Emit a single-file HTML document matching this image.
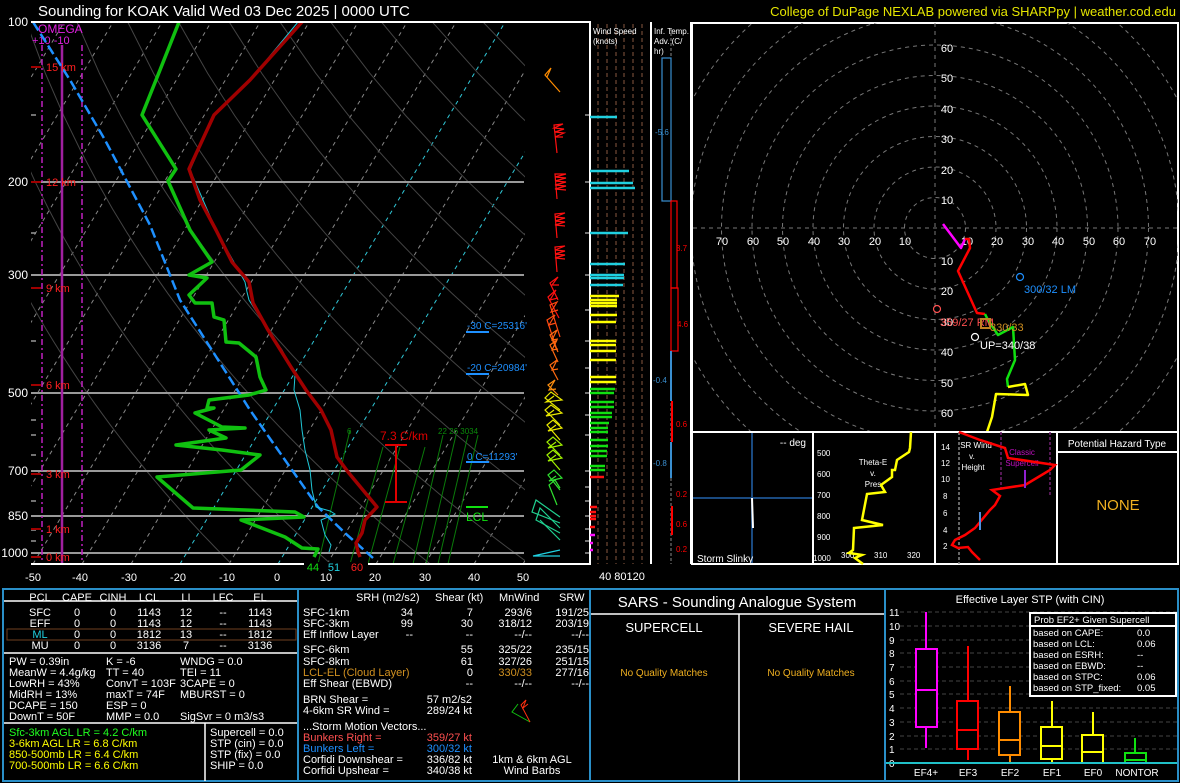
<!DOCTYPE html>
<html><head><meta charset="utf-8"><style>
html,body{margin:0;padding:0;background:#000;width:1180px;height:783px;overflow:hidden}
svg{display:block;font-family:"Liberation Sans",sans-serif}
</style></head><body>
<svg id="s" width="1180" height="783" viewBox="0 0 1180 783" xmlns="http://www.w3.org/2000/svg">
<rect width="1180" height="783" fill="#000"/>
<text x="38" y="16" fill="#fff" font-size="15">Sounding for KOAK Valid  Wed 03 Dec 2025 | 0000 UTC</text>
<text x="1176" y="16" fill="#e6e600" font-size="13" text-anchor="end">College of DuPage NEXLAB powered via SHARPpy | weather.cod.edu</text>

<defs><clipPath id="sk"><rect x="31" y="23" width="494" height="541"/></clipPath>
<clipPath id="hd"><rect x="693" y="23" width="485" height="409"/></clipPath></defs>
<g id="grid" clip-path="url(#sk)"></g>
<g stroke="#999" stroke-width="2">
<line x1="31" y1="182" x2="524" y2="182"/><line x1="31" y1="275" x2="524" y2="275"/>
<line x1="31" y1="393" x2="524" y2="393"/><line x1="31" y1="471" x2="524" y2="471"/>
<line x1="31" y1="516" x2="524" y2="516"/><line x1="31" y1="553" x2="524" y2="553"/>
</g>
<g stroke="#999" stroke-width="1.5">
<line x1="31" y1="115" x2="36" y2="115"/><line x1="31" y1="233" x2="36" y2="233"/><line x1="31" y1="341" x2="36" y2="341"/><line x1="31" y1="420" x2="36" y2="420"/><line x1="31" y1="435" x2="36" y2="435"/><line x1="31" y1="455" x2="36" y2="455"/><line x1="31" y1="501" x2="36" y2="501"/><line x1="31" y1="530" x2="36" y2="530"/><line x1="31" y1="541" x2="36" y2="541"/>
<line x1="585" y1="115" x2="590" y2="115"/><line x1="585" y1="182" x2="590" y2="182"/><line x1="585" y1="233" x2="590" y2="233"/><line x1="585" y1="275" x2="590" y2="275"/><line x1="585" y1="310" x2="590" y2="310"/><line x1="585" y1="341" x2="590" y2="341"/><line x1="585" y1="368" x2="590" y2="368"/><line x1="585" y1="393" x2="590" y2="393"/><line x1="585" y1="415" x2="590" y2="415"/><line x1="585" y1="435" x2="590" y2="435"/><line x1="585" y1="471" x2="590" y2="471"/><line x1="585" y1="487" x2="590" y2="487"/><line x1="585" y1="501" x2="590" y2="501"/><line x1="585" y1="516" x2="590" y2="516"/><line x1="585" y1="529" x2="590" y2="529"/><line x1="585" y1="541" x2="590" y2="541"/><line x1="585" y1="553" x2="590" y2="553"/>
</g>
<g stroke="#0a7a0a" stroke-width="1">
<line x1="350" y1="430" x2="318" y2="564"/><line x1="383" y1="447" x2="350" y2="564"/><line x1="400" y1="447" x2="368" y2="564"/><line x1="425" y1="447" x2="393" y2="564"/><line x1="443" y1="435" x2="413" y2="564"/><line x1="456" y1="435" x2="426" y2="564"/><line x1="468" y1="435" x2="438" y2="564"/><line x1="478" y1="435" x2="448" y2="564"/>
</g>
<text x="347" y="434" fill="#0a8a0a" font-size="8">6</text>
<text x="438" y="434" fill="#0a8a0a" font-size="8">22 26 3034</text>
<line x1="62" y1="45" x2="62" y2="564" stroke="#a020a0" stroke-width="2.5"/>
<line x1="42" y1="45" x2="42" y2="564" stroke="#c020c0" stroke-width="1.5" stroke-dasharray="6,3,2,3"/>
<line x1="82" y1="45" x2="82" y2="564" stroke="#c020c0" stroke-width="1.5" stroke-dasharray="6,3,2,3"/>
<text x="38" y="33" fill="#e020e0" font-size="12">OMEGA</text>
<text x="32" y="44" fill="#e020e0" font-size="11">+10    -10</text>
<polyline fill="none" stroke="#1e90ff" stroke-width="2.5" stroke-dasharray="10,4" points="33,22 70,80 105,140 150,225 180,300 215,355 250,410 285,460 318,507 345,533 373,558"/>
<polyline fill="none" stroke="#20c8d8" stroke-width="1" points="298,22 250,80 214,115 190,170 216,230 245,282 247,292 249,300 268,330 282,350 295,375 294,390 300,410 302,430 305,450 310,470 312,490 316,507 330,511 335,514 321,520 325,535 331,545 329,552"/>
<polyline fill="none" stroke="#a00000" stroke-width="3.5" stroke-linejoin="round" points="302,22 250,80 214,115 189,169 200,200 216,230 232,262 249,282 253,303 268,330 291,367 306,390 321,410 331,430 337,457 348,472 377,507 365,520 362,533 356,543 358,552 360,557"/>
<polyline fill="none" stroke="#10c010" stroke-width="3.5" stroke-linejoin="round" points="179,22 160,70 142,115 176,169 168,181 190,230 212,262 189,275 207,278 189,295 195,303 212,303 214,317 224,320 226,342 239,343 256,357 260,377 266,390 249,395 209,400 207,408 214,408 195,413 222,427 245,428 209,430 226,438 176,445 222,450 260,455 241,470 157,477 193,508 295,512 304,517 241,520 285,537 302,548 318,549 314,557"/>
<text x="380" y="440" fill="#e00000" font-size="12">7.3 C/km</text>
<g stroke="#e00000" stroke-width="2"><line x1="396" y1="445" x2="396" y2="502"/><line x1="385" y1="445" x2="407" y2="445"/><line x1="385" y1="502" x2="407" y2="502"/></g>
<line x1="466" y1="507" x2="488" y2="507" stroke="#10e010" stroke-width="2"/>
<text x="466" y="521" fill="#10e010" font-size="12">LCL</text>
<g fill="#1e90ff" font-size="10"><text x="467" y="329">-30 C=25316'</text><text x="467" y="371">-20 C=20984'</text><text x="467" y="460">0 C=11293'</text></g>
<g stroke="#1e90ff" stroke-width="2"><line x1="466" y1="332" x2="489" y2="332"/><line x1="466" y1="374" x2="489" y2="374"/><line x1="466" y1="462" x2="489" y2="462"/></g>
<g fill="#ff2020" font-size="11"><text x="46" y="71">15 km</text><text x="46" y="186">12 km</text><text x="46" y="292">9 km</text><text x="46" y="389">6 km</text><text x="46" y="478">3 km</text><text x="46" y="533">1 km</text><text x="46" y="561">0 km</text></g>
<g stroke="#a00000" stroke-width="2"><line x1="31" y1="67" x2="41" y2="67"/><line x1="31" y1="182" x2="41" y2="182"/><line x1="31" y1="288" x2="41" y2="288"/><line x1="31" y1="385" x2="41" y2="385"/><line x1="31" y1="474" x2="41" y2="474"/><line x1="31" y1="529" x2="41" y2="529"/><line x1="31" y1="557" x2="41" y2="557"/></g>
<polyline fill="none" stroke="#fff" stroke-width="2" points="31,22 590,22 590,564 31,564"/>
<g fill="#fff" font-size="12" text-anchor="end"><text x="28" y="26">100</text><text x="28" y="186">200</text><text x="28" y="279">300</text><text x="28" y="397">500</text><text x="28" y="475">700</text><text x="28" y="520">850</text><text x="28" y="557">1000</text></g>
<g fill="#fff" font-size="11" text-anchor="middle"><text x="33" y="581">-50</text><text x="80" y="581">-40</text><text x="129" y="581">-30</text><text x="178" y="581">-20</text><text x="227" y="581">-10</text><text x="277" y="581">0</text><text x="326" y="581">10</text><text x="375" y="581">20</text><text x="425" y="581">30</text><text x="474" y="581">40</text><text x="523" y="581">50</text></g>
<rect x="304" y="562" width="64" height="10" fill="#000"/>
<g font-size="11" text-anchor="middle"><text x="313" y="571" fill="#10e010">44</text><text x="334" y="571" fill="#20d0e0">51</text><text x="357" y="571" fill="#ff2020">60</text></g>

<g fill="none" stroke-width="1.2">
<polyline stroke="#ff8c00" points="560,92 545,75 551,68 547,77"/>
<g stroke="#ff1010">
<polyline points="557,153 554,125 563,124 554,128 564,129 555,132 564,133 555,137 563,137"/>
<polyline points="557,199 555,174 566,174 555,177 566,178 555,181 566,182 555,185 566,186 555,189 566,190"/>
<polyline points="557,238 555,214 565,213 555,217 565,218 555,221 565,222 555,225 565,226"/>
<polyline points="557,272 555,247 565,246 555,250 565,251 555,254 565,255 555,258 565,259"/>
<polyline points="558,300 550,283 558,277 552,285 559,285"/>
<polyline points="559,318 548,297 556,290 550,300 558,298"/>
</g>
<g stroke="#ff4a10"><polyline points="560,337 550,305 557,302 551,312 558,310"/><polyline points="557,350 547,320 555,315 549,325 556,323"/></g>
<g stroke="#ff6a10"><polyline points="558,352 550,335 557,330 552,340 558,339"/><polyline points="558,362 550,345 557,340 552,350 558,349"/><polyline points="558,380 550,365 557,360 552,370 558,369"/></g>
<g stroke="#ff9010"><polyline points="558,395 548,385 555,380 549,390 556,389"/></g>
<g stroke="#e8e800"><polyline points="560,410 545,398 551,392 562,400 546,402 554,396"/><polyline points="560,425 545,410 551,405 562,413 546,416 554,410"/><polyline points="560,440 547,425 553,420 562,428 548,431 556,425"/></g>
<g stroke="#a0f000"><polyline points="560,455 547,442 553,437 562,445 548,448 556,442"/><polyline points="560,470 547,455 553,450 562,458 548,461 556,455"/></g>
<g stroke="#30e030"><polyline points="560,490 548,475 554,470 562,478 549,481 556,476"/><polyline points="557,505 549,485 555,480 560,488"/></g>
<g stroke="#20d090"><polyline points="560,517 536,500 532,512 560,523"/><polyline points="560,528 540,508 536,520 560,533"/><polyline points="560,540 540,520"/></g>
<polyline stroke="#20d0e0" points="560,550 533,556 560,556"/>
</g>

<g stroke="#5a3a2a" stroke-width="1.5" stroke-dasharray="4,3"><line x1="598" y1="24" x2="598" y2="564"/><line x1="607" y1="24" x2="607" y2="564"/><line x1="616" y1="24" x2="616" y2="564"/><line x1="624" y1="24" x2="624" y2="564"/><line x1="633" y1="24" x2="633" y2="564"/><line x1="642" y1="24" x2="642" y2="564"/></g>
<line x1="590" y1="22" x2="590" y2="564" stroke="#fff" stroke-width="1" stroke-dasharray="3,2"/>
<line x1="651" y1="22" x2="651" y2="564" stroke="#fff" stroke-width="2"/>
<text x="593" y="34" fill="#fff" font-size="8">Wind Speed</text><text x="593" y="44" fill="#fff" font-size="8">(knots)</text>
<g stroke="#20d0e0" stroke-width="2.5"><line x1="590" y1="117" x2="617" y2="117"/><line x1="590" y1="171" x2="629" y2="171"/><line x1="590" y1="183" x2="633" y2="183"/><line x1="590" y1="188" x2="635" y2="188"/><line x1="590" y1="233" x2="628" y2="233"/><line x1="590" y1="264" x2="625" y2="264"/><line x1="590" y1="275" x2="624" y2="275"/><line x1="590" y1="278" x2="624" y2="278"/><line x1="590" y1="285" x2="623" y2="285"/></g>
<g stroke="#ffff00" stroke-width="2.5"><line x1="590" y1="296" x2="619" y2="296"/><line x1="590" y1="300" x2="617" y2="300"/><line x1="590" y1="303" x2="617" y2="303"/><line x1="590" y1="306" x2="617" y2="306"/><line x1="590" y1="315" x2="617" y2="315"/><line x1="590" y1="322" x2="616" y2="322"/><line x1="590" y1="341" x2="616" y2="341"/><line x1="590" y1="345" x2="616" y2="345"/><line x1="590" y1="351" x2="616" y2="351"/><line x1="590" y1="360" x2="616" y2="360"/><line x1="590" y1="377" x2="616" y2="377"/><line x1="590" y1="382" x2="616" y2="382"/></g>
<g stroke="#10e010" stroke-width="2.5"><line x1="590" y1="389" x2="615" y2="389"/><line x1="590" y1="393" x2="614" y2="393"/><line x1="590" y1="402" x2="614" y2="402"/><line x1="590" y1="407" x2="614" y2="407"/><line x1="590" y1="413" x2="612" y2="413"/><line x1="590" y1="417" x2="612" y2="417"/><line x1="590" y1="423" x2="609" y2="423"/><line x1="590" y1="428" x2="608" y2="428"/><line x1="590" y1="432" x2="608" y2="432"/><line x1="590" y1="440" x2="608" y2="440"/><line x1="590" y1="446" x2="608" y2="446"/><line x1="590" y1="451" x2="607" y2="451"/><line x1="590" y1="456" x2="607" y2="456"/><line x1="590" y1="466" x2="605" y2="466"/><line x1="590" y1="470" x2="605" y2="470"/></g>
<g stroke="#ff1010" stroke-width="2.5"><line x1="590" y1="477" x2="604" y2="477"/><line x1="590" y1="507" x2="597" y2="507"/><line x1="590" y1="512" x2="596" y2="512"/><line x1="590" y1="516" x2="596" y2="516"/><line x1="590" y1="519" x2="596" y2="519"/><line x1="590" y1="527" x2="595" y2="527"/></g>
<g stroke="#ff10ff" stroke-width="2.5"><line x1="590" y1="535" x2="595" y2="535"/><line x1="590" y1="543" x2="593" y2="543"/><line x1="590" y1="550" x2="593" y2="550"/></g>
<text x="599" y="580" fill="#fff" font-size="11">40  80120</text>

<text x="654" y="34" fill="#fff" font-size="8">Inf. Temp.</text><text x="654" y="44" fill="#fff" font-size="8">Adv. (C/</text><text x="654" y="54" fill="#fff" font-size="8">hr)</text>
<line x1="671" y1="28" x2="671" y2="564" stroke="#888" stroke-width="1" stroke-dasharray="3,2"/>
<rect x="662" y="58" width="9" height="143" fill="none" stroke="#3a8fd0" stroke-width="1.2"/>
<rect x="671" y="201" width="6" height="87" fill="none" stroke="#f00" stroke-width="1.2"/>
<rect x="671" y="288" width="7" height="63" fill="none" stroke="#f00" stroke-width="1.2"/>
<g stroke-width="2"><line x1="671" y1="351" x2="671" y2="401" stroke="#3a8fd0"/><line x1="672" y1="401" x2="672" y2="442" stroke="#f00"/><line x1="671" y1="442" x2="671" y2="478" stroke="#3a8fd0"/><line x1="672" y1="506" x2="672" y2="535" stroke="#f00"/></g>
<g font-size="8"><text x="655" y="135" fill="#3a8fd0">-5.6</text><text x="676" y="251" fill="#f00">3.7</text><text x="677" y="327" fill="#f00">4.6</text><text x="653" y="383" fill="#3a8fd0">-0.4</text><text x="676" y="427" fill="#f00">0.6</text><text x="653" y="466" fill="#3a8fd0">-0.8</text><text x="676" y="497" fill="#f00">0.2</text><text x="676" y="527" fill="#f00">0.6</text><text x="676" y="552" fill="#f00">0.2</text></g>
<line x1="691" y1="22" x2="691" y2="564" stroke="#fff" stroke-width="2"/>

<rect x="692" y="23" width="486" height="409" fill="none" stroke="#fff" stroke-width="2"/>
<g clip-path="url(#hd)" fill="none" stroke="#777" stroke-width="1" stroke-dasharray="4,4">
<circle cx="935" cy="228" r="30.5"/><circle cx="935" cy="228" r="61"/><circle cx="935" cy="228" r="91.5"/><circle cx="935" cy="228" r="122"/><circle cx="935" cy="228" r="152.5"/><circle cx="935" cy="228" r="183"/><circle cx="935" cy="228" r="213.5"/><circle cx="935" cy="228" r="244"/><circle cx="935" cy="228" r="274.5"/>
<line x1="935" y1="23" x2="935" y2="432"/><line x1="693" y1="228" x2="1178" y2="228"/>
</g>
<g fill="#fff" font-size="11" text-anchor="middle">
<text x="947" y="52">60</text><text x="947" y="82">50</text><text x="947" y="113">40</text><text x="947" y="143">30</text><text x="947" y="174">20</text><text x="947" y="204">10</text><text x="947" y="265">10</text><text x="947" y="295">20</text><text x="947" y="356">40</text><text x="947" y="387">50</text><text x="947" y="417">60</text><text x="947" y="326">30</text>
<text x="722" y="245">70</text><text x="753" y="245">60</text><text x="783" y="245">50</text><text x="814" y="245">40</text><text x="844" y="245">30</text><text x="875" y="245">20</text><text x="905" y="245">10</text><text x="967" y="245">10</text><text x="997" y="245">20</text><text x="1028" y="245">30</text><text x="1058" y="245">40</text><text x="1089" y="245">50</text><text x="1119" y="245">60</text><text x="1150" y="245">70</text>
</g>
<g fill="none" stroke-width="2.5" stroke-linejoin="round">
<polyline stroke="#ff00ff" points="943,224 961,248 965,239"/>
<polyline stroke="#ff0000" points="965,239 969,239 970,248 958,271 977,313 985,314"/>
<polyline stroke="#10e010" points="985,314 988,320 998,335 1013,327 1015,360 1007,379 1008,387"/>
<polyline stroke="#ffff00" points="1008,387 1025,384 1028,395 996,394 992,417 987,432"/>
</g>
<circle cx="1020" cy="277" r="3.5" fill="none" stroke="#1e90ff" stroke-width="1.2"/>
<text x="1024" y="293" fill="#1e90ff" font-size="11">300/32 LM</text>
<circle cx="937" cy="309" r="3.5" fill="none" stroke="#ff5050" stroke-width="1.2"/>
<text x="940" y="326" fill="#ff5050" font-size="11">359/27 RM</text>
<rect x="981" y="319" width="9" height="9" fill="none" stroke="#c08020" stroke-width="2"/>
<text x="990" y="331" fill="#d09020" font-size="11">330/33</text>
<circle cx="975" cy="337" r="3.5" fill="none" stroke="#fff" stroke-width="1.2"/>
<text x="980" y="349" fill="#fff" font-size="11">UP=340/38</text>

<rect x="692" y="432" width="486" height="132" fill="#000" stroke="#fff" stroke-width="2"/>
<g stroke="#fff" stroke-width="2"><line x1="813" y1="432" x2="813" y2="564"/><line x1="935" y1="432" x2="935" y2="564"/><line x1="1057" y1="432" x2="1057" y2="564"/><line x1="1057" y1="452" x2="1178" y2="452"/></g>
<g stroke="#1a4a80" stroke-width="2"><line x1="752" y1="433" x2="752" y2="563"/><line x1="693" y1="498" x2="812" y2="498"/></g>
<line x1="752" y1="498" x2="753" y2="528" stroke="#fff" stroke-width="2"/>
<text x="806" y="446" fill="#fff" font-size="10" text-anchor="end">-- deg</text>
<text x="697" y="562" fill="#fff" font-size="10">Storm Slinky</text>
<g fill="#fff" font-size="8"><text x="817" y="456">500</text><text x="817" y="477">600</text><text x="817" y="498">700</text><text x="817" y="519">800</text><text x="817" y="540">900</text><text x="813" y="561">1000</text><text x="841" y="558">300</text><text x="874" y="558">310</text><text x="907" y="558">320</text></g>
<g fill="#fff" font-size="8" text-anchor="middle"><text x="873" y="465">Theta-E</text><text x="873" y="476">v.</text><text x="873" y="487">Pres</text></g>
<polyline fill="none" stroke="#ffff00" stroke-width="2.5" points="911,432 910,448 909,452 897,460 895,470 892,470 892,477 881,485 885,492 867,494 862,520 883,525 854,528 853,550 849,553 862,555 855,558 863,564"/>
<g stroke="#888" stroke-width="1.5" stroke-dasharray="3,2"><line x1="959" y1="432" x2="959" y2="564"/></g>
<g stroke="#702070" stroke-width="1.5" stroke-dasharray="3,2"><line x1="1001" y1="432" x2="1001" y2="488"/><line x1="1050" y1="432" x2="1050" y2="495"/></g>
<g fill="#fff" font-size="8"><text x="941" y="450">14</text><text x="941" y="466">12</text><text x="941" y="482">10</text><text x="943" y="499">8</text><text x="943" y="516">6</text><text x="943" y="533">4</text><text x="943" y="549">2</text></g>
<g fill="#fff" font-size="8" text-anchor="middle"><text x="976" y="448">SR Wind</text><text x="972" y="459">v.</text><text x="973" y="470">Height</text></g>
<g fill="#c010c0" font-size="8" text-anchor="middle"><text x="1022" y="455">Classic</text><text x="1022" y="466">Supercell</text></g>
<polyline fill="none" stroke="#ff0000" stroke-width="2.5" points="959,432 980,440 1005,448 1008,458 1055,465 1050,470 1025,485 1005,488 992,490 1000,496 995,505 990,510 980,522 975,528 965,535 955,540 952,545 958,548 968,547 972,552 975,555 980,560"/>
<line x1="1025" y1="470" x2="1025" y2="488" stroke="#9020d0" stroke-width="2"/>
<line x1="980" y1="512" x2="980" y2="530" stroke="#5090e0" stroke-width="2"/>
<text x="1117" y="447" fill="#fff" font-size="10" text-anchor="middle">Potential Hazard Type</text>
<text x="1118" y="510" fill="#f0b020" font-size="15" text-anchor="middle">NONE</text>

<rect x="3" y="589" width="1175" height="192" fill="none" stroke="#2a8fc8" stroke-width="2"/>
<g stroke="#2a8fc8" stroke-width="2"><line x1="298" y1="589" x2="298" y2="781"/><line x1="590" y1="589" x2="590" y2="781"/><line x1="885" y1="589" x2="885" y2="781"/></g>
<g stroke="#fff" stroke-width="1.5"><line x1="4" y1="601" x2="297" y2="601"/><line x1="4" y1="653" x2="297" y2="653"/><line x1="4" y1="723" x2="297" y2="723"/><line x1="205" y1="723" x2="205" y2="781"/><line x1="591" y1="614" x2="884" y2="614"/><line x1="739" y1="614" x2="739" y2="781"/></g>
<rect x="7" y="629" width="289" height="11" fill="none" stroke="#704020" stroke-width="1"/>
<g fill="#fff" font-size="11" text-anchor="middle">
<text x="40" y="601">PCL</text><text x="77" y="601">CAPE</text><text x="113" y="601">CINH</text><text x="149" y="601">LCL</text><text x="186" y="601">LI</text><text x="223" y="601">LFC</text><text x="260" y="601">EL</text>
<text x="40" y="616">SFC</text><text x="77" y="616">0</text><text x="113" y="616">0</text><text x="149" y="616">1143</text><text x="186" y="616">12</text><text x="223" y="616">--</text><text x="260" y="616">1143</text>
<text x="40" y="627">EFF</text><text x="77" y="627">0</text><text x="113" y="627">0</text><text x="149" y="627">1143</text><text x="186" y="627">12</text><text x="223" y="627">--</text><text x="260" y="627">1143</text>
<text x="40" y="638" fill="#20d0e0">ML</text><text x="77" y="638">0</text><text x="113" y="638">0</text><text x="149" y="638">1812</text><text x="186" y="638">13</text><text x="223" y="638">--</text><text x="260" y="638">1812</text>
<text x="40" y="649">MU</text><text x="77" y="649">0</text><text x="113" y="649">0</text><text x="149" y="649">3136</text><text x="186" y="649">7</text><text x="223" y="649">--</text><text x="260" y="649">3136</text>
</g>
<g fill="#fff" font-size="11">
<text x="9" y="665">PW = 0.39in</text><text x="106" y="665">K = -6</text><text x="180" y="665">WNDG = 0.0</text>
<text x="9" y="676">MeanW = 4.4g/kg</text><text x="106" y="676">TT = 40</text><text x="180" y="676">TEI = 11</text>
<text x="9" y="687">LowRH = 43%</text><text x="106" y="687">ConvT = 103F</text><text x="180" y="687">3CAPE = 0</text>
<text x="9" y="698">MidRH = 13%</text><text x="106" y="698">maxT = 74F</text><text x="180" y="698">MBURST = 0</text>
<text x="9" y="709">DCAPE = 150</text><text x="106" y="709">ESP = 0</text>
<text x="9" y="720">DownT = 50F</text><text x="106" y="720">MMP = 0.0</text><text x="180" y="720">SigSvr = 0 m3/s3</text>
<text x="9" y="736" fill="#20ff20">Sfc-3km AGL LR = 4.2 C/km</text>
<text x="9" y="747" fill="#ffff00">3-6km AGL LR = 6.8 C/km</text>
<text x="9" y="758" fill="#ffff00">850-500mb LR = 6.4 C/km</text>
<text x="9" y="769" fill="#ffff00">700-500mb LR = 6.6 C/km</text>
<text x="210" y="736">Supercell = 0.0</text><text x="210" y="747">STP (cin) = 0.0</text><text x="210" y="758">STP (fix) = 0.0</text><text x="210" y="769">SHIP = 0.0</text>
</g>
<g fill="#fff" font-size="11">
<text x="356" y="601">SRH (m2/s2)</text><text x="435" y="601">Shear (kt)</text><text x="499" y="601">MnWind</text><text x="559" y="601">SRW</text>
<text x="303" y="616">SFC-1km</text><text x="303" y="627">SFC-3km</text><text x="303" y="638">Eff Inflow Layer</text>
<text x="303" y="653">SFC-6km</text><text x="303" y="665">SFC-8km</text><text x="303" y="676" fill="#d09020">LCL-EL (Cloud Layer)</text><text x="303" y="687">Eff Shear (EBWD)</text>
<text x="303" y="703">BRN Shear =</text><text x="303" y="714">4-6km SR Wind =</text><text x="303" y="730">...Storm Motion Vectors...</text>
<text x="303" y="741" fill="#ff5050">Bunkers Right =</text><text x="303" y="752" fill="#1e90ff">Bunkers Left =</text><text x="303" y="763">Corfidi Downshear =</text><text x="303" y="774">Corfidi Upshear =</text>
</g>
<g fill="#fff" font-size="11" text-anchor="end">
<text x="413" y="616">34</text><text x="473" y="616">7</text><text x="532" y="616">293/6</text><text x="589" y="616">191/25</text>
<text x="413" y="627">99</text><text x="473" y="627">30</text><text x="532" y="627">318/12</text><text x="589" y="627">203/19</text>
<text x="413" y="638">--</text><text x="473" y="638">--</text><text x="532" y="638">--/--</text><text x="589" y="638">--/--</text>
<text x="473" y="653">55</text><text x="532" y="653">325/22</text><text x="589" y="653">235/15</text>
<text x="473" y="665">61</text><text x="532" y="665">327/26</text><text x="589" y="665">251/15</text>
<text x="473" y="676">0</text><text x="532" y="676" fill="#d09020">330/33</text><text x="589" y="676">277/16</text>
<text x="473" y="687">--</text><text x="532" y="687">--/--</text><text x="589" y="687">--/--</text>
<text x="472" y="703">57 m2/s2</text><text x="472" y="714">289/24 kt</text>
<text x="472" y="741" fill="#ff5050">359/27 kt</text><text x="472" y="752" fill="#1e90ff">300/32 kt</text><text x="472" y="763">336/82 kt</text><text x="472" y="774">340/38 kt</text>
</g>
<g fill="#fff" font-size="11" text-anchor="middle"><text x="532" y="763">1km &amp; 6km AGL</text><text x="532" y="774">Wind Barbs</text></g>
<polyline fill="none" stroke="#10c010" stroke-width="1" points="530,722 512,712 518,704"/>
<polyline fill="none" stroke="#ff3010" stroke-width="1" points="530,722 521,705 526,700 523,708 528,704"/>
<text x="737" y="607" fill="#fff" font-size="15" text-anchor="middle">SARS - Sounding Analogue System</text>
<text x="664" y="632" fill="#fff" font-size="13" text-anchor="middle">SUPERCELL</text>
<text x="811" y="632" fill="#fff" font-size="13" text-anchor="middle">SEVERE HAIL</text>
<text x="664" y="676" fill="#f0b020" font-size="10" text-anchor="middle">No Quality Matches</text>
<text x="811" y="676" fill="#f0b020" font-size="10" text-anchor="middle">No Quality Matches</text>
<text x="1030" y="603" fill="#fff" font-size="11" text-anchor="middle">Effective Layer STP (with CIN)</text>
<g stroke="#444" stroke-width="1" stroke-dasharray="4,3">
<line x1="900" y1="612" x2="1178" y2="612"/><line x1="900" y1="626" x2="1178" y2="626"/><line x1="900" y1="640" x2="1178" y2="640"/><line x1="900" y1="653" x2="1178" y2="653"/><line x1="900" y1="667" x2="1178" y2="667"/><line x1="900" y1="681" x2="1178" y2="681"/><line x1="900" y1="694" x2="1178" y2="694"/><line x1="900" y1="708" x2="1178" y2="708"/><line x1="900" y1="722" x2="1178" y2="722"/><line x1="900" y1="736" x2="1178" y2="736"/><line x1="900" y1="749" x2="1178" y2="749"/></g>
<g fill="#fff" font-size="10"><text x="889" y="616">11</text><text x="889" y="630">10</text><text x="889" y="644">9</text><text x="889" y="657">8</text><text x="889" y="671">7</text><text x="889" y="685">6</text><text x="889" y="698">5</text><text x="889" y="712">4</text><text x="889" y="726">3</text><text x="889" y="740">2</text><text x="889" y="753">1</text><text x="889" y="767">0</text></g>
<g fill="none" stroke-width="2">
<g stroke="#ff00ff"><line x1="926" y1="612" x2="926" y2="748"/><rect x="916" y="649" width="21" height="78" fill="#000"/><line x1="916" y1="690" x2="937" y2="690"/></g>
<g stroke="#ff0000"><line x1="968" y1="646" x2="968" y2="760"/><rect x="957" y="701" width="21" height="48" fill="#000"/><line x1="957" y1="730" x2="978" y2="730"/></g>
<g stroke="#ff8c00"><line x1="1010" y1="686" x2="1010" y2="763"/><rect x="999" y="712" width="21" height="43" fill="#000"/><line x1="999" y1="740" x2="1020" y2="740"/></g>
<g stroke="#ffff00"><line x1="1052" y1="701" x2="1052" y2="763"/><rect x="1041" y="727" width="21" height="32" fill="#000"/><line x1="1041" y1="746" x2="1062" y2="746"/></g>
<g stroke="#ffff00"><line x1="1093" y1="712" x2="1093" y2="763"/><rect x="1082" y="735" width="21" height="28" fill="#000"/><line x1="1082" y1="752" x2="1103" y2="752"/></g>
<g stroke="#10e010"><line x1="1135" y1="738" x2="1135" y2="763"/><rect x="1125" y="753" width="21" height="10" fill="#000"/><line x1="1125" y1="760" x2="1146" y2="760"/></g>
</g>
<line x1="886" y1="763" x2="1177" y2="763" stroke="#20c0c8" stroke-width="2"/>
<g fill="#fff" font-size="10" text-anchor="middle"><text x="926" y="776">EF4+</text><text x="968" y="776">EF3</text><text x="1010" y="776">EF2</text><text x="1052" y="776">EF1</text><text x="1093" y="776">EF0</text><text x="1137" y="776">NONTOR</text></g>
<rect x="1030" y="613" width="146" height="83" fill="#000" stroke="#fff" stroke-width="2"/>
<line x1="1030" y1="626" x2="1176" y2="626" stroke="#fff" stroke-width="2"/>
<g fill="#fff" font-size="9.5"><text x="1034" y="623">Prob EF2+ Given Supercell</text>
<text x="1033" y="636">based on CAPE:</text><text x="1137" y="636">0.0</text>
<text x="1033" y="647">based on LCL:</text><text x="1137" y="647">0.06</text>
<text x="1033" y="658">based on ESRH:</text><text x="1137" y="658">--</text>
<text x="1033" y="669">based on EBWD:</text><text x="1137" y="669">--</text>
<text x="1033" y="680">based on STPC:</text><text x="1137" y="680">0.06</text>
<text x="1033" y="691">based on STP_fixed:</text><text x="1137" y="691">0.05</text></g>
</svg>
<script>
(function(){
var g=document.getElementById('grid'),h='';
function Y(p){return 22+230.5*Math.log(p/100);}
function X(T,y){return 278+4.9*T+0.6*(564-y);}
for(var T=-110;T<=50;T+=10){var c=(T==0||T==-20)?'#30c8d8':'#888';
h+='<line x1="'+X(T,564)+'" y1="564" x2="'+X(T,22)+'" y2="22" stroke="'+c+'" stroke-width="1" stroke-dasharray="4,4"/>';}
for(var th=260;th<=480;th+=20){var pts=[];for(var p=1050;p>=100;p-=25){var y=Y(p);var t=th*Math.pow(p/1000,0.2857)-273.15;pts.push(X(t,y).toFixed(1)+','+y.toFixed(1));}
h+='<polyline fill="none" stroke="#444" stroke-width="1" points="'+pts.join(' ')+'"/>';}
g.innerHTML=h;
})();
</script>
</body></html>
